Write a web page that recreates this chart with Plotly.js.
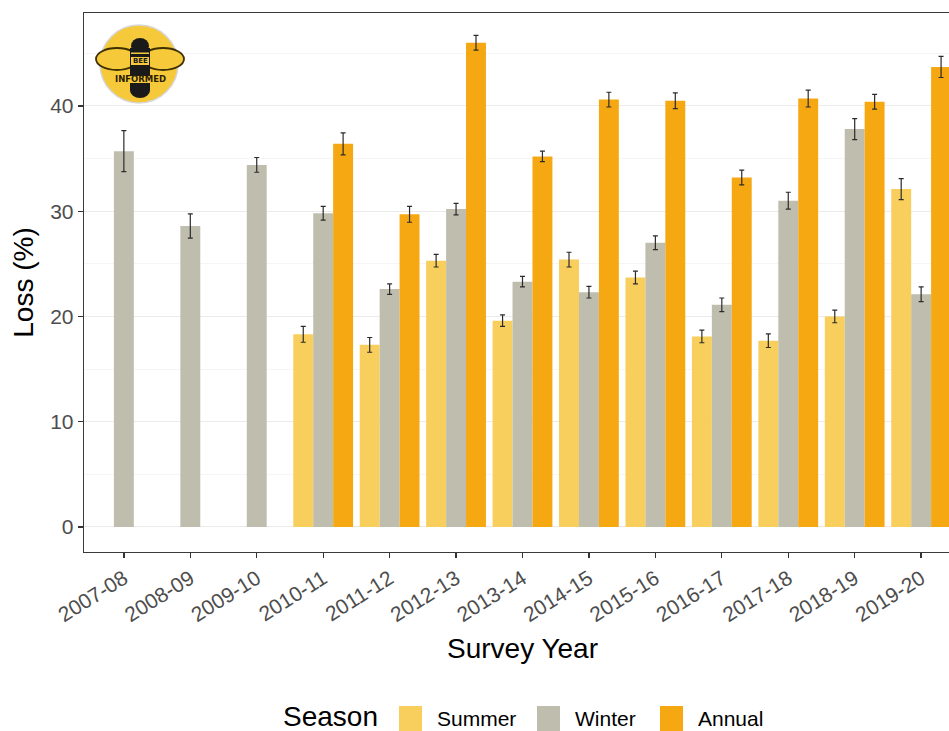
<!DOCTYPE html>
<html><head><meta charset="utf-8">
<script src="https://cdn.plot.ly/plotly-3.0.1.min.js"></script>
<style>
html,body{margin:0;padding:0;background:#fff;overflow:hidden;}
#wrap{width:949px;height:731px;overflow:hidden;position:relative;}
#chart{width:971px;height:731px;}
</style>
</head><body><div id="wrap"><div id="chart"></div></div>
<script>
// ---- data ----
const categories = ['2007-08','2008-09','2009-10','2010-11','2011-12','2012-13','2013-14','2014-15','2015-16','2016-17','2017-18','2018-19','2019-20'];
const summer    = [null, null, null, 18.3, 17.3, 25.3, 19.6, 25.4, 23.7, 18.1, 17.7, 20.0, 32.1];
const summerErr = [null, null, null, 0.75, 0.7, 0.6, 0.55, 0.7, 0.6, 0.6, 0.65, 0.6, 1.0];
const winter    = [35.7, 28.6, 34.4, 29.8, 22.6, 30.2, 23.3, 22.3, 27.0, 21.1, 31.0, 37.8, 22.1];
const winterErr = [1.95, 1.15, 0.7, 0.65, 0.5, 0.55, 0.5, 0.55, 0.65, 0.65, 0.8, 1.0, 0.7];
const annual    = [null, null, null, 36.4, 29.7, 46.0, 35.2, 40.6, 40.5, 33.2, 40.7, 40.4, 43.7];
const annualErr = [null, null, null, 1.05, 0.75, 0.7, 0.5, 0.7, 0.75, 0.7, 0.8, 0.7, 1.0];
const seasons = ['Summer', 'Winter', 'Annual'];
const seasonColors = ['#F8CF5C', '#BFBEAE', '#F6A813'];
const yTicks = [0, 10, 20, 30, 40];
const yMinor = [5, 15, 25, 35, 45];
const xTitle = 'Survey Year';
const yTitle = 'Loss (%)';
const legendTitle = 'Season';

// ---- geometry helpers (pixel -> paper) ----
const W = 971, H = 731, L = 84, R = 10, T = 13, B = 179;
const pw = W - L - R, ph = H - T - B;
const fx = p => (p - L) / pw;
const fy = p => (H - B - p) / ph;

const values = [summer, winter, annual];
const errs = [summerErr, winterErr, annualErr];
const traces = seasons.map((s, i) => ({
  type: 'bar', name: s, x: categories, y: values[i],
  marker: {color: seasonColors[i], line: {width: 0}},
  error_y: {type: 'data', array: errs[i], visible: true, color: '#2b2b2b', thickness: 1.2, width: 2.5},
  hoverinfo: 'skip'
}));

const LOGO_Y = '#F6C93A';
const shapes = [];
const annotations = [];
function ell(x0, y0, x1, y1, fill, lc, lw) {
  shapes.push({type: 'circle', xref: 'paper', yref: 'paper', layer: 'above',
    x0: fx(x0), x1: fx(x1), y0: fy(y1), y1: fy(y0), fillcolor: fill,
    line: {color: lc || fill, width: lw === undefined ? 0 : lw}});
}
function rect(x0, y0, x1, y1, fill) {
  shapes.push({type: 'rect', xref: 'paper', yref: 'paper', layer: 'above',
    x0: fx(x0), x1: fx(x1), y0: fy(y1), y1: fy(y0), fillcolor: fill, line: {width: 0}});
}
// logo
ell(100, 25, 178, 103, LOGO_Y, '#D6D6D6', 1.5);
ell(96, 48, 138, 70, LOGO_Y, '#3D3000', 1.8);
ell(142, 48, 184, 70, LOGO_Y, '#3D3000', 1.8);
ell(131, 38, 149, 54, '#1A1A1A');
rect(130, 48, 150, 90, '#1A1A1A');
ell(130, 83, 150, 98, '#1A1A1A');
rect(131, 52.5, 149, 54, LOGO_Y);
rect(131, 57, 149, 65, LOGO_Y);
rect(128, 76, 152, 83, LOGO_Y);
annotations.push({xref: 'paper', yref: 'paper', x: fx(140), y: fy(61), text: '<b>BEE</b>', showarrow: false,
  font: {family: 'DejaVu Sans', size: 7, color: '#1A1A1A'}, xanchor: 'center', yanchor: 'middle'});
annotations.push({xref: 'paper', yref: 'paper', x: fx(140), y: fy(79.5), text: '<b>INFORMED</b>', showarrow: false,
  font: {family: 'DejaVu Sans', size: 8.5, color: '#2A2000'}, xanchor: 'center', yanchor: 'middle'});

// legend (manual, ggplot style)
annotations.push({xref: 'paper', yref: 'paper', x: fx(281), y: fy(716), text: legendTitle, showarrow: false,
  font: {size: 28, color: '#000'}, xanchor: 'left', yanchor: 'middle'});
const keyX = [399, 537, 660];
seasons.forEach((s, i) => {
  rect(keyX[i], 706, keyX[i] + 23, 731, seasonColors[i]);
  annotations.push({xref: 'paper', yref: 'paper', x: fx(keyX[i] + 36), y: fy(718), text: s, showarrow: false,
    font: {size: 21, color: '#000'}, xanchor: 'left', yanchor: 'middle'});
});

const layout = {
  width: W, height: H, margin: {l: L, r: R, t: T, b: B},
  paper_bgcolor: '#fff', plot_bgcolor: '#fff',
  barmode: 'group', bargap: 0.1, bargroupgap: 0, showlegend: false,
  font: {family: 'Liberation Sans, Arial, sans-serif'},
  xaxis: {
    type: 'category', range: [-0.6, 12.6], tickangle: -32,
    tickfont: {size: 21, color: '#4D4D4D'},
    ticks: 'outside', ticklen: 5, tickwidth: 1.3, tickcolor: '#333',
    showline: true, mirror: true, linecolor: '#3a3a3a', linewidth: 1.3,
    showgrid: false, zeroline: false, automargin: false,
    title: {text: xTitle, font: {size: 28, color: '#000'}, standoff: 13}
  },
  yaxis: {
    range: [-2.38, 48.83], tickvals: yTicks, ticktext: yTicks.map(String),
    tickfont: {size: 21, color: '#4D4D4D'},
    ticks: 'outside', ticklen: 5, tickwidth: 1.3, tickcolor: '#333',
    showline: true, mirror: true, linecolor: '#3a3a3a', linewidth: 1.3,
    showgrid: true, gridcolor: '#EBEBEB', gridwidth: 1, zeroline: false, automargin: false,
    minor: {tickvals: yMinor, showgrid: true, gridcolor: '#F5F5F5', gridwidth: 1, ticks: ''},
    title: {text: yTitle, font: {size: 28, color: '#000'}, standoff: 8}
  },
  shapes: shapes,
  annotations: annotations
};
Plotly.newPlot('chart', traces, layout, {displayModeBar: false, staticPlot: true});
</script>
</body></html>
